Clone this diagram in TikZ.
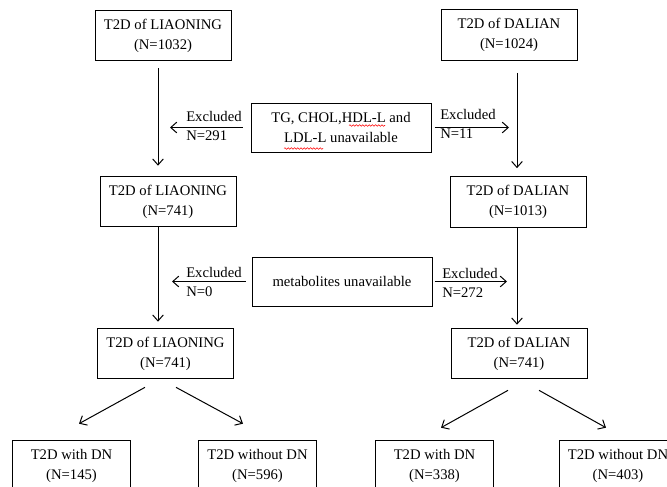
\documentclass[tikz,border=0pt]{standalone}
\usepackage{fontspec}
\setmainfont{Liberation Serif}
\usetikzlibrary{arrows.meta, calc, decorations.pathmorphing}

\tikzset{
  box/.style={draw, line width=0.75pt, minimum width=102pt, minimum height=38pt,
    inner sep=0pt, align=center, font=\fontsize{11}{15}\selectfont},
  midbox/.style={box, minimum width=135pt, minimum height=36.75pt},
  endbox/.style={box, minimum width=88pt},
  arr/.style={line width=0.75pt, -{Straight Barb[length=4.5pt,width=8pt]}},
  lbl/.style={inner sep=0pt, align=left, anchor=west, font=\fontsize{11}{14.25}\selectfont},
  squig/.style={red, line width=0.4pt, decorate,
    decoration={snake, amplitude=0.6pt, segment length=2.4pt}}
}

\begin{document}
\begin{tikzpicture}[x=0.75pt, y=-0.75pt]
    \useasboundingbox (0,0) rectangle (667,486);
    \clip (0,0) rectangle (667,486);
    \coordinate (colL) at (158,0);
    \coordinate (colR) at (517,0);

    % cohorts
    \node[box] (L1) at (163,35.5) {T2D of LIAONING\\(N=1032)};
    \node[box] (R1) at (509,35) {T2D of DALIAN\\(N=1024)};
    \node[midbox] (M1) at (341,127.5) {TG, CHOL,HDL-L and\\LDL-L unavailable};
    \node[box] (L2) at (168,201.5) {T2D of LIAONING\\(N=741)};
    \node[box] (R2) at (518,202) {T2D of DALIAN\\(N=1013)};
    \node[midbox] (M2) at (342,281.5) {metabolites unavailable};
    \node[box] (L3) at (165.5,353.5) {T2D of LIAONING\\(N=741)};
    \node[box] (R3) at (519,353.5) {T2D of DALIAN\\(N=741)};
    \node[endbox] (LA) at (71.5,465.5) {T2D with DN\\(N=145)};
    \node[endbox] (LB) at (257.5,465.5) {T2D without DN\\(N=596)};
    \node[endbox] (RA) at (434.5,465.5) {T2D with DN\\(N=338)};
    \node[endbox] (RB) at (618,465.5) {T2D without DN\\(N=403)};

    % spell-check marks
    \draw[squig] (349,125.5) -- (385,125.5);
    \draw[squig] (284,148.5) -- (323,148.5);

    % main flow
    \draw[arr, shorten <=5.25pt, shorten >=7.5pt] (L1.south -| colL) -- (L2.north -| colL);
    \draw[arr, shorten >=4.5pt] (L2.south -| colL) -- (L3.north -| colL);
    \draw[arr, shorten <=9pt, shorten >=6pt] (R1.south -| colR) -- (R2.north -| colR);
    \draw[arr, shorten >=2.25pt] (R2.south -| colR) -- (R3.north -| colR);

    % exclusions
    \draw[arr, shorten <=6pt, shorten >=9pt] (M1.west) -- (M1.west -| colL);
    \draw[arr, shorten <=2.25pt, shorten >=6pt] (M1.east) -- (M1.east -| colR);
    \draw[arr, shorten <=4.5pt, shorten >=10.5pt] (M2.west) -- (M2.west -| colL);
    \draw[arr, shorten <=1.5pt, shorten >=7.5pt] (M2.east) -- (M2.east -| colR);
    \node[lbl] (x1) at (186,125.5) {Excluded\\N=291};
    \node[lbl] (x2) at (440,123.5) {Excluded\\N=11};
    \node[lbl] (x3) at (186,281.5) {Excluded\\N=0};
    \node[lbl] (x4) at (442,283) {Excluded\\N=272};

    % split by DN
    \draw[arr] ($(L3.south)+(-20.5,8)$) -- ($(LA.north)+(7.5,-16)$);
    \draw[arr] ($(L3.south)+(10.5,8)$) -- ($(LB.north)+(-14.5,-16)$);
    \draw[arr] ($(R3.south)+(-11,11)$) -- ($(RA.north)+(6.5,-12)$);
    \draw[arr] ($(R3.south)+(20,11)$) -- ($(RB.north)+(-12,-12)$);
\end{tikzpicture}
\end{document}
